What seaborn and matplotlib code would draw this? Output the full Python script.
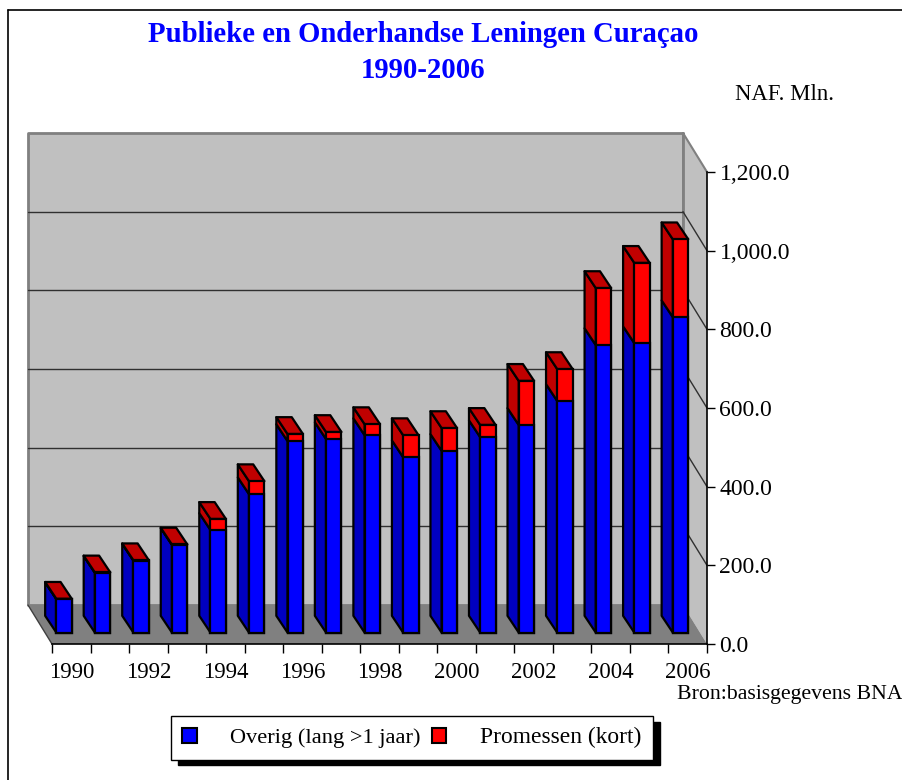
import matplotlib
matplotlib.use('Agg')
import numpy as np
import pandas as pd
import seaborn as sns
from matplotlib import pyplot as plt
from matplotlib.lines import Line2D
from matplotlib.patches import Patch, Polygon

# Values (NAF mln)
years = [str(y) for y in range(1990, 2007)]
overig = [85, 152, 183, 223, 261, 352, 487, 492, 502, 446, 462, 497, 528, 589, 731, 736, 802]
promessen = [1, 1, 1, 1, 28, 33, 18, 18, 28, 56, 58, 31, 112, 81, 145, 204, 198]
y_ticks = [0, 200, 400, 600, 800, 1000, 1200]

BLUE, BLUE_DARK = '#0000FF', '#0000C0'
RED, RED_DARK = '#FF0000', '#C00000'
WALL, FLOOR = '#C0C0C0', '#808080'

sns.set_style('white')
plt.rcParams['font.family'] = ['Liberation Serif', 'DejaVu Serif']

W, H = 903, 780
fig = plt.figure(figsize=(W / 100, H / 100), dpi=100)
ax = fig.add_axes([52 / W, 1 - 644 / H, 655 / W, 472 / H])

df = pd.DataFrame({'year': years, 'overig': overig, 'promessen': promessen})
df['total'] = df['overig'] + df['promessen']

# Stacked bars: total in red, overig on top in blue
sns.barplot(data=df, x='year', y='total', color=RED, saturation=1, width=0.40,
            edgecolor='black', linewidth=1.6, ax=ax, zorder=5)
sns.barplot(data=df, x='year', y='overig', color=BLUE, saturation=1, width=0.40,
            edgecolor='black', linewidth=1.6, ax=ax, zorder=6)
ax.set_xlim(-0.5, 16.5)
ax.set_ylim(0, 1200)

# Oblique projection, pixel sizes expressed in data units
ux = 17 / 655
uy = 1200 / 472
wall_dx, wall_dy = -24 * ux, 39 * uy
bar_dx, bar_dy = -11.2 * ux, 16.8 * uy
front_dx, front_dy = -7.2 * ux, 11.4 * uy

x0, x1 = -0.5, 16.5


def poly(pts, face, edge='none', lw=0, z=1):
    ax.add_patch(Polygon(pts, closed=True, facecolor=face, edgecolor=edge, linewidth=lw,
                         zorder=z, clip_on=False, joinstyle='round'))


# Walls and floor
poly([(x0 + wall_dx, wall_dy), (x1 + wall_dx, wall_dy), (x1 + wall_dx, 1200 + wall_dy), (x0 + wall_dx, 1200 + wall_dy)],
     WALL, FLOOR, 2, 1)
poly([(x1 + wall_dx, wall_dy), (x1, 0), (x1, 1200), (x1 + wall_dx, 1200 + wall_dy)], WALL, z=1)
poly([(x0 + wall_dx, wall_dy), (x1 + wall_dx, wall_dy), (x1, 0), (x0, 0)], FLOOR, z=2)
ax.plot([x1 + wall_dx, x1 + wall_dx], [wall_dy, 1200 + wall_dy], color=FLOOR, lw=2, zorder=2, clip_on=False)
ax.plot([x1 + wall_dx, x1], [1200 + wall_dy, 1200], color=FLOOR, lw=1.5, zorder=2, clip_on=False)
ax.plot([x0 + wall_dx, x0], [wall_dy, 0], color='#404040', lw=1, zorder=3, clip_on=False)

# Grid lines on back and side wall
for v in y_ticks[1:-1]:
    ax.plot([x0 + wall_dx, x1 + wall_dx], [v + wall_dy, v + wall_dy], color='#303030', lw=1, zorder=2, clip_on=False)
    ax.plot([x1 + wall_dx, x1], [v + wall_dy, v], color='#303030', lw=1, zorder=2, clip_on=False)

# Shift bars on to their front plane and add side and top faces
bars = list(ax.patches)
red_bars = [b for b in bars if b.get_facecolor()[:3] == (1.0, 0.0, 0.0)]
blue_bars = [b for b in bars if b.get_facecolor()[:3] == (0.0, 0.0, 1.0)]
for rb, bb in zip(red_bars, blue_bars):
    for b in (rb, bb):
        b.set_x(b.get_x() + front_dx)
        b.set_y(b.get_y() + front_dy)
    left, right = rb.get_x(), rb.get_x() + rb.get_width()
    base = rb.get_y()
    top = base + rb.get_height()
    mid = base + bb.get_height()
    poly([(left, base), (left, mid), (left + bar_dx, mid + bar_dy), (left + bar_dx, base + bar_dy)],
         BLUE_DARK, 'black', 1.6, 4)
    poly([(left, mid), (left, top), (left + bar_dx, top + bar_dy), (left + bar_dx, mid + bar_dy)],
         RED_DARK, 'black', 1.6, 4)
    poly([(left, top), (right, top), (right + bar_dx, top + bar_dy), (left + bar_dx, top + bar_dy)],
         RED_DARK, 'black', 1.6, 4)

# Axes
sns.despine(ax=ax, left=True, right=False, top=True, bottom=False)
for s in ('bottom', 'right'):
    ax.spines[s].set_color('black')
    ax.spines[s].set_linewidth(1.2)
    ax.spines[s].set_zorder(8)
ax.patch.set_visible(False)
ax.set_xlabel('')
ax.set_ylabel('')
ax.set_xticks(np.arange(0, 18) - 0.5)
ax.set_xticklabels([])
ax.set_xticks(np.arange(0, 17, 2), labels=years[::2], minor=True)
ax.tick_params(axis='x', which='major', bottom=True, length=6.5, width=1, color='black')
ax.tick_params(axis='x', which='minor', bottom=False, length=0, pad=13, labelsize=16.4, labelcolor='black')
ax.yaxis.tick_right()
ax.set_yticks(y_ticks, labels=[f'{v:,.1f}' for v in y_ticks])
ax.tick_params(axis='y', right=True, length=6, width=1, pad=3, labelsize=17, color='black', labelcolor='black')

# Texts
fig.text(423 / W, 1 - 34 / H, 'Publieke en Onderhandse Leningen Curaçao', color=BLUE, fontsize=20.7,
         fontweight='bold', ha='center', va='center')
fig.text(423 / W, 1 - 70 / H, '1990-2006', color=BLUE, fontsize=20.7, fontweight='bold', ha='center', va='center')
fig.text(735 / W, 1 - 94 / H, 'NAF. Mln.', color='black', fontsize=16.4, ha='left', va='center')
fig.text(677 / W, 1 - 694 / H, 'Bron:basisgegevens BNA', color='black', fontsize=15.7, ha='left', va='center')

# Chart frame: only top and left are inside the picture
fig.add_artist(Line2D([7.5 / W, 7.5 / W], [0, 1 - 10 / H], color='black', lw=1.2))
fig.add_artist(Line2D([7.5 / W, 1], [1 - 10 / H, 1 - 10 / H], color='black', lw=1.2))

handles = [Patch(facecolor=BLUE, edgecolor='black', linewidth=1.5, label='Overig (lang >1 jaar)'),
           Patch(facecolor=RED, edgecolor='black', linewidth=1.5, label='Promessen (kort)')]
leg = ax.legend(handles=handles, ncols=2, loc='upper left', bbox_to_anchor=(171 / W, 1 - 716 / H),
                bbox_transform=fig.transFigure, fontsize=16.1, labelcolor='black', frameon=True, fancybox=False,
                edgecolor='black', framealpha=1, handlelength=0.66, handleheight=0.66,
                handletextpad=1.5, columnspacing=0.48, borderpad=0.5, borderaxespad=0,
                shadow={'ox': 5, 'oy': -4.3, 'color': 'black', 'alpha': 1})
leg.get_texts()[1].set_fontsize(16.9)
leg.get_frame().set_linewidth(1)
leg.set_zorder(20)

fig.savefig('out.png', dpi=100)
